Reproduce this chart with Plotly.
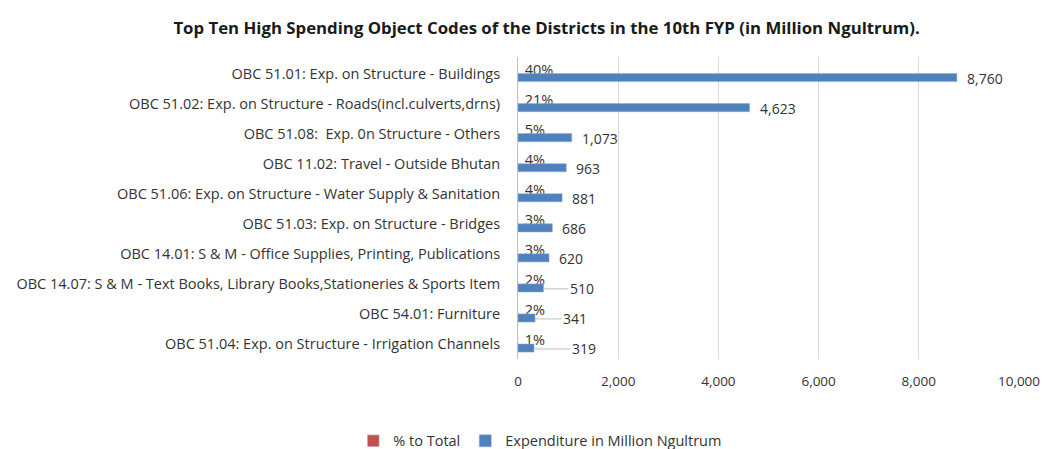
import plotly.graph_objects as go

categories = [
    "OBC 51.01: Exp. on Structure - Buildings",
    "OBC 51.02: Exp. on Structure - Roads(incl.culverts,drns)",
    "OBC 51.08:  Exp. 0n Structure - Others",
    "OBC 11.02: Travel - Outside Bhutan",
    "OBC 51.06: Exp. on Structure - Water Supply & Sanitation",
    "OBC 51.03: Exp. on Structure - Bridges",
    "OBC 14.01: S & M - Office Supplies, Printing, Publications",
    "OBC 14.07: S & M - Text Books, Library Books,Stationeries & Sports Item",
    "OBC 54.01: Furniture",
    "OBC 51.04: Exp. on Structure - Irrigation Channels",
]
pct_to_total = [40, 21, 5, 4, 4, 3, 3, 2, 2, 1]
expenditure = [8760, 4623, 1073, 963, 881, 686, 620, 510, 341, 319]
x_ticks = [0, 2000, 4000, 6000, 8000, 10000]
# labels moved off their bars (drawn with a leader line), pixel offset of label
leader_offset = {7: 38, 8: 40, 9: 50}

FONT = "Open Sans"
TXT = "#333333"

fig = go.Figure()
fig.add_trace(go.Bar(
    name="% to Total",
    y=categories,
    x=[p / 100 for p in pct_to_total],
    orientation="h",
    marker_color="#C0504D",
    text=[f" {p}%" for p in pct_to_total],
    textposition="outside",
    cliponaxis=False,
    constraintext="none",
    textfont=dict(family=FONT, size=14.5, color=TXT),
))
fig.add_trace(go.Bar(
    name="Expenditure in Million Ngultrum",
    y=categories,
    x=expenditure,
    orientation="h",
    marker_color="#4F81BD",
    marker_line=dict(color="#8EADD6", width=0.5),
    textposition="none",
))

for i, (cat, val) in enumerate(zip(categories, expenditure)):
    label = f"{val:,}"
    if i in leader_offset:
        fig.add_annotation(
            x=val, y=cat, text=label, showarrow=True,
            ax=leader_offset[i], ay=0, axref="pixel", ayref="pixel",
            arrowhead=0, arrowwidth=1, arrowcolor="#BFBFBF", standoff=0,
            yshift=-5, font=dict(family=FONT, size=14, color=TXT),
        )
    else:
        fig.add_annotation(
            x=val, y=cat, text=label, showarrow=False,
            xanchor="left", xshift=8, yshift=-5,
            font=dict(family=FONT, size=14, color=TXT),
        )

fig.update_layout(
    width=1045, height=449,
    margin=dict(l=518, r=26, t=57, b=90, autoexpand=False),
    paper_bgcolor="white", plot_bgcolor="white",
    barmode="group", bargap=0.46, bargroupgap=0.0,
    title=dict(
        text="<b>Top Ten High Spending Object Codes of the Districts in the 10th FYP (in Million Ngultrum).</b>",
        x=0.523, xanchor="center", y=0.937, yanchor="middle",
        font=dict(family=FONT, size=16.8, color="#1a1a1a"),
    ),
    font=dict(family=FONT, size=14, color=TXT),
    legend=dict(
        orientation="h", xref="container", yref="container",
        x=0.517, xanchor="center", y=0.018, yanchor="middle",
        font=dict(family=FONT, size=14.5, color=TXT),
        itemwidth=30, traceorder="normal",
    ),
    showlegend=True,
)
fig.update_xaxes(
    range=[0, 10000], tickvals=x_ticks, tickformat=",d",
    showgrid=True, gridcolor="#D9D9D9", gridwidth=1,
    zeroline=False, showline=False, ticks="", automargin=False,
    ticklabelstandoff=12,
    tickfont=dict(family=FONT, size=13.5, color=TXT),
)
fig.update_yaxes(
    autorange="reversed", showline=True, linecolor="#BFBFBF", linewidth=1,
    ticks="", ticklabelstandoff=14, automargin=False,
    tickfont=dict(family=FONT, size=14.5, color=TXT),
)

fig.write_html("out.html")
